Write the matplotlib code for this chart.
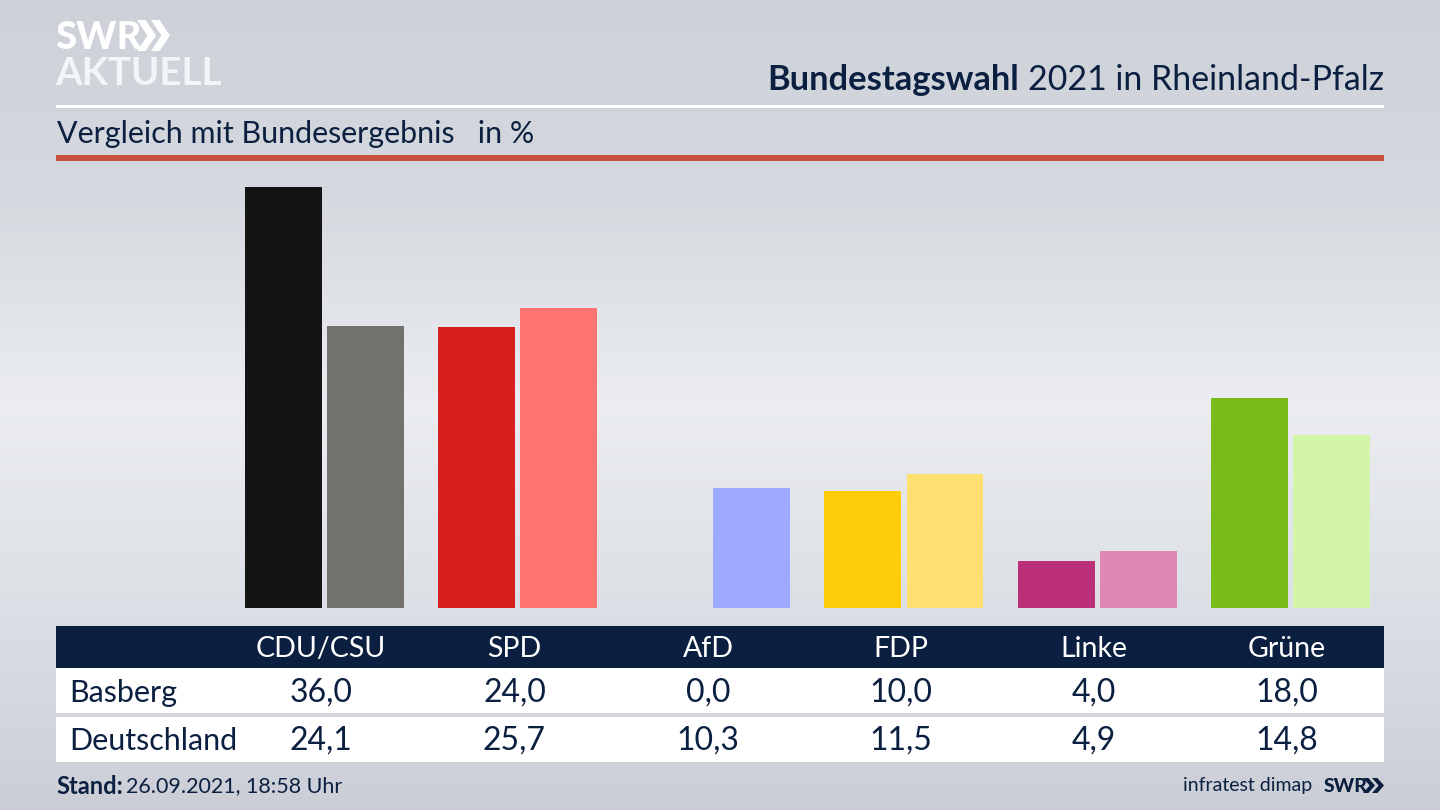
import numpy as np
import matplotlib
matplotlib.use("Agg")
import matplotlib.pyplot as plt
from matplotlib.patches import Rectangle, Polygon
from matplotlib.colors import LinearSegmentedColormap

parties = ["CDU/CSU", "SPD", "AfD", "FDP", "Linke", "Grüne"]
basberg = [36.0, 24.0, 0.0, 10.0, 4.0, 18.0]
deutschland = [24.1, 25.7, 10.3, 11.5, 4.9, 14.8]
colors_local = ["#141414", "#d71f1d", "#9daaff", "#ffcc0a", "#bb2f78", "#78bc1b"]
colors_national = ["#72716e", "#ff7370", "#9daaff", "#ffdf70", "#e087b5", "#d3f5a8"]

FONT = "Lato"
NAVY = "#0b2040"
plt.rcParams["font.family"] = [FONT, "DejaVu Sans"]

W, H = 1440, 810
fig = plt.figure(figsize=(14.4, 8.1), dpi=100)

# overlay in pixel space for background, headers and table
bg = fig.add_axes([0, 0, 1, 1], zorder=0)
bg.set_xlim(0, W); bg.set_ylim(H, 0); bg.axis("off")
cmap = LinearSegmentedColormap.from_list("bg", ["#cdd1d8", "#d6d9df", "#ebedf1", "#dcdfe5", "#cbced6"])
grad = np.linspace(0, 1, 256).reshape(-1, 1)
bg.imshow(grad, cmap=cmap, extent=(0, W, H, 0), aspect="auto", zorder=0)

def rect(x0, y0, x1, y1, c):
    bg.add_patch(Rectangle((x0, y0), x1 - x0, y1 - y0, fc=c, ec="none", zorder=1))

rect(56, 104.5, 1384, 107.5, "white")
rect(56, 155, 1384, 161, "#c9503f")
rect(56, 626, 1384, 668, NAVY)
rect(56, 668, 1384, 713, "white")
rect(56, 717, 1384, 762, "white")

# logo
bg.text(55, 38, "SWR", color="white", fontsize=27.5, fontweight="black", va="center", ha="left", zorder=2)
bg.text(55, 74, "AKTUELL", color="#f4f5f7", fontsize=27.6, fontweight="bold", va="center", ha="left", zorder=2)
def chevrons(x, y, h, w, gap, c):
    for k in range(2):
        x0 = x + k * gap
        bg.add_patch(Polygon([(x0, y), (x0 + w * 0.45, y), (x0 + w, y + h / 2), (x0 + w * 0.45, y + h),
                              (x0, y + h), (x0 + w * 0.55, y + h / 2)], fc=c, ec="none", zorder=2))
chevrons(137, 20, 31, 19, 14, "white")
chevrons(1363, 778, 15, 12, 9, NAVY)

# title
bg.text(1384, 80, "2021 in Rheinland-Pfalz", color=NAVY, fontsize=24.4, ha="right", va="center", zorder=2)
bg.text(1019, 80, "Bundestagswahl", color=NAVY, fontsize=24.8, fontweight="bold", ha="right", va="center", zorder=2)
bg.text(57, 134, "Vergleich mit Bundesergebnis   in %", color=NAVY, fontsize=21.9, ha="left", va="center", zorder=2)

# bars
y_px_top, y_px_base = 160, 608
x_left, x_right = 227.7, 1387
ax = fig.add_axes([x_left / W, 1 - y_px_base / H, (x_right - x_left) / W, (y_px_base - y_px_top) / H], zorder=1)
ax.patch.set_alpha(0)
ax.set_xlim(-0.5, 5.5)
ax.set_ylim(0, (y_px_base - y_px_top) / 11.69)
ax.axis("off")
x = np.arange(len(parties))
off, bw = 0.2124, 0.398
ax.bar(x - off, basberg, bw, color=colors_local)
ax.bar(x + off, deutschland, bw, color=colors_national)

# table
fmt = lambda v: f"{v:.1f}".replace(".", ",")
tx = [321, 514.5, 708, 901, 1094, 1287]
tb = fig.add_axes([0, 0, 1, 1], zorder=2)
tb.patch.set_alpha(0); tb.set_xlim(0, W); tb.set_ylim(H, 0); tb.axis("off")
for i, p in enumerate(parties):
    tb.text(tx[i], 649, p, color="white", fontsize=20.5, ha="center", va="center")
    tb.text(tx[i], 693, fmt(basberg[i]), color=NAVY, fontsize=23, ha="center", va="center")
    tb.text(tx[i], 741, fmt(deutschland[i]), color=NAVY, fontsize=23, ha="center", va="center")
tb.text(69, 693, "Basberg", color=NAVY, fontsize=22, ha="left", va="center")
tb.text(69, 741, "Deutschland", color=NAVY, fontsize=22, ha="left", va="center")

# footer
tb.text(56, 786, "Stand:", color=NAVY, fontsize=17, fontweight="bold", ha="left", va="center")
tb.text(126, 786, "26.09.2021, 18:58 Uhr", color=NAVY, fontsize=15.5, ha="left", va="center")
tb.text(1312, 786, "infratest dimap", color=NAVY, fontsize=14, ha="right", va="center")
tb.text(1324, 786, "SWR", color=NAVY, fontsize=14, fontweight="black", ha="left", va="center")

fig.savefig("out.png", dpi=100)
